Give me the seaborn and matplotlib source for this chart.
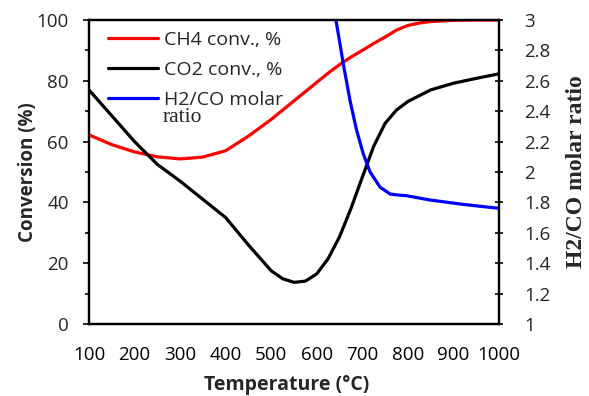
import matplotlib
matplotlib.use("Agg")
import matplotlib.pyplot as plt
import seaborn as sns
import numpy as np
from matplotlib.ticker import MultipleLocator

# ---- data ----
temp_ch4 = [100, 150, 200, 250, 300, 350, 400, 450, 500, 550, 600, 629, 650, 675, 700, 725, 750, 775, 800, 825, 850, 900, 950, 1000]
ch4_conv = [62.2, 59.0, 56.6, 55.0, 54.3, 54.9, 57.0, 61.8, 67.3, 73.4, 79.5, 83.0, 85.3, 87.8, 90.0, 92.3, 94.4, 96.7, 98.2, 99.0, 99.5, 99.9, 100.0, 100.0]

temp_co2 = [100, 150, 200, 250, 300, 350, 400, 450, 500, 525, 550, 575, 600, 625, 650, 675, 700, 725, 750, 775, 800, 850, 900, 950, 1000]
co2_conv = [77.0, 68.5, 60.0, 52.5, 47.0, 41.0, 35.0, 26.0, 17.5, 14.9, 13.7, 14.1, 16.5, 21.5, 28.7, 38.0, 48.3, 58.5, 66.0, 70.4, 73.2, 77.0, 79.2, 80.8, 82.3]

temp_ratio = [600, 625, 642, 650, 658, 673, 687, 702, 717, 739, 761, 780, 797, 848, 921, 1000]
h2co_ratio = [3.55, 3.28, 3.0, 2.86, 2.715, 2.47, 2.28, 2.12, 2.00, 1.90, 1.855, 1.848, 1.844, 1.816, 1.787, 1.761]

x_ticks = [100, 200, 300, 400, 500, 600, 700, 800, 900, 1000]
left_ticks = [0, 20, 40, 60, 80, 100]
right_ticks = [1, 1.2, 1.4, 1.6, 1.8, 2, 2.2, 2.4, 2.6, 2.8, 3]
right_tick_labels = ["1", "1.2", "1.4", "1.6", "1.8", "2", "2.2", "2.4", "2.6", "2.8", "3"]

sns.set_style("white")
plt.rcParams['font.family'] = ['Open Sans', 'DejaVu Sans']

fig = plt.figure(figsize=(5.89, 3.96), dpi=100)
ax = fig.add_axes([89/589, 1-324/396, 410/589, 304/396])
ax2 = ax.twinx()

lw = 2.3
sns.lineplot(x=temp_ch4, y=ch4_conv, ax=ax, color="#FF0000", linewidth=lw, label="CH4 conv., %", legend=False)
sns.lineplot(x=temp_co2, y=co2_conv, ax=ax, color="#000000", linewidth=lw, label="CO2 conv., %", legend=False)
sns.lineplot(x=temp_ratio, y=h2co_ratio, ax=ax2, color="#0000FF", linewidth=lw, label="H2/CO molar", legend=False)
for a in (ax, ax2):
    for ln in a.get_lines():
        ln.set_solid_joinstyle('round')

ax.set_xlim(100, 1000)
ax.set_ylim(0, 100)
ax2.set_ylim(1, 3)

ax.set_xticks(x_ticks)
ax.set_xticklabels([str(t) for t in x_ticks])
ax.xaxis.set_minor_locator(MultipleLocator(50))
ax.set_yticks(left_ticks)
ax.yaxis.set_minor_locator(MultipleLocator(10))
ax2.set_yticks(right_ticks)
ax2.set_yticklabels(right_tick_labels)

for a in (ax, ax2):
    for s in a.spines.values():
        s.set_color("black")
        s.set_linewidth(1.6)

fs = 13.5
ax.tick_params(axis='x', which='major', direction='out', length=4, width=1.4, pad=12, labelsize=fs, colors='black')
ax.tick_params(axis='x', which='minor', direction='out', length=4, width=1.4)
ax.tick_params(axis='y', which='major', direction='out', length=4.5, width=1.4, pad=10, labelsize=fs, left=True)
ax.tick_params(axis='y', which='minor', direction='out', length=3, width=1.4, left=True)
ax2.tick_params(axis='y', which='major', direction='inout', length=6, width=1.4, pad=15, labelsize=fs, right=True)

ax.set_xlabel("Temperature (°C)", fontsize=14, fontweight='bold')
ax.xaxis.set_label_coords(0.483, -0.168)
ax.set_ylabel("Conversion (%)", fontsize=13.5, fontweight='bold', labelpad=-1)
ax2.set_ylabel("H2/CO molar ratio", fontsize=17, fontweight='bold', family=['Liberation Serif', 'DejaVu Serif'], labelpad=11)

h1, l1 = ax.get_legend_handles_labels()
h2, l2 = ax2.get_legend_handles_labels()
leg = ax2.legend(h1 + h2, l1 + l2, loc='upper left', bbox_to_anchor=(0.02, 1.0), frameon=False,
                 fontsize=14, handlelength=2.6, handletextpad=0.3, labelspacing=0.62, borderaxespad=0.15)
ax2.text(0.18, 0.68, "ratio", transform=ax.transAxes, fontsize=15.5,
         family=['Liberation Serif', 'DejaVu Serif'], va='center', ha='left')

fig.savefig("out.png", dpi=100)
